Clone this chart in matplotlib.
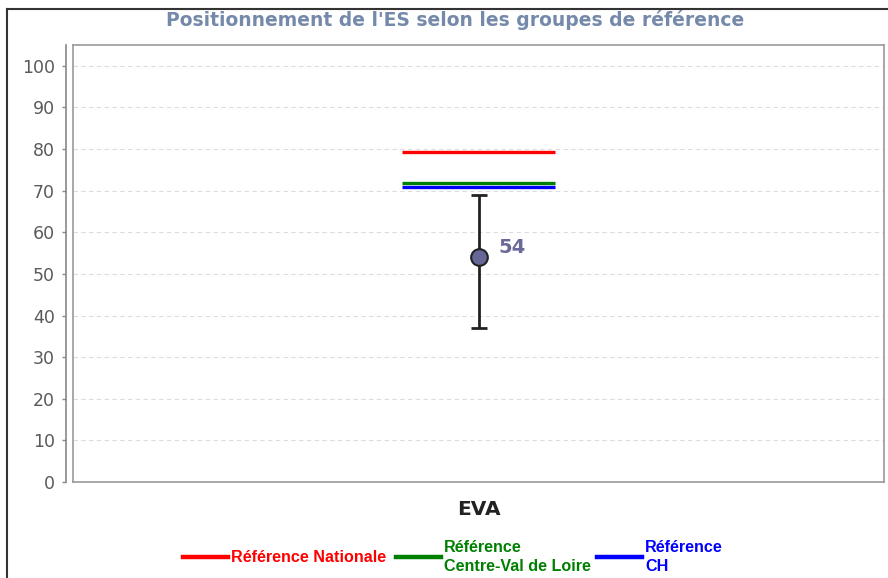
import matplotlib.pyplot as plt
from matplotlib.lines import Line2D

# data
category = 'EVA'
es_value = 54
es_low = 37
es_high = 69
ref_labels = ['Référence Nationale', 'Référence\nCentre-Val de Loire', 'Référence\nCH']
ref_values = [79.4, 71.9, 70.9]
ref_colors = ['#ff0000', '#008000', '#0000ff']
y_ticks = [0, 10, 20, 30, 40, 50, 60, 70, 80, 90, 100]

W, H = 888, 578
fig = plt.figure(figsize=(W / 100, H / 100), dpi=100)

# plot box in pixels
left, right, top, bottom = 73, 884, 45, 482
ax = fig.add_axes([left / W, 1 - bottom / H, (right - left) / W, (bottom - top) / H])

ax.set_xlim(-0.5, 0.5)
ax.set_ylim(0, 105)

# grid
for t in y_ticks:
    ax.axhline(t, color='#dddddd', lw=0.8, ls=(0, (4, 3)), zorder=0)

# reference lines
for v, c in zip(ref_values, ref_colors):
    ax.hlines(v, -0.094, 0.094, colors=c, lw=2.4, zorder=3)

# error bar + point
ax.errorbar([0], [es_value],
            yerr=[[es_value - es_low], [es_high - es_value]],
            fmt='none', ecolor='#222222', elinewidth=2, capsize=6, capthick=2, zorder=4)
ax.plot([0], [es_value], 'o', ms=12, mfc='#666699', mec='#222222', mew=1.5, zorder=5)
ax.annotate(str(es_value), (0, es_value), xytext=(14, 0), textcoords='offset points',
            color='#6a6a9a', fontsize=14, fontweight='bold', va='bottom', ha='left')

# spines
for s in ['top', 'right', 'bottom']:
    ax.spines[s].set_color('#999999')
    ax.spines[s].set_linewidth(1.2)
ax.spines['left'].set_position(('outward', 5))
ax.spines['left'].set_color('#888888')
ax.spines['left'].set_linewidth(1.2)
ax.plot([0, 0], [0, 1], transform=ax.transAxes, color='#999999', lw=1.2, clip_on=False)

ax.set_yticks(y_ticks)
ax.tick_params(axis='y', length=3, width=1, color='#888888', labelcolor='#5a5a5a',
               labelsize=12.5, pad=5)
ax.set_xticks([0])
ax.set_xticklabels([category], fontsize=14.5, fontweight='bold', color='#222222')
ax.tick_params(axis='x', length=0, pad=13)

# title
fig.text(455 / W, 1 - 20 / H, "Positionnement de l'ES selon les groupes de référence",
         ha='center', va='center', fontsize=13.5, fontweight='bold', color='#7589aa')

# outer frame
fig.add_artist(Line2D([7 / W, 1], [1 - 9 / H, 1 - 9 / H], color='#333333', lw=1.5))
fig.add_artist(Line2D([7 / W, 7 / W], [0, 1 - 9 / H], color='#333333', lw=1.5))

# legend drawn by hand
leg_x = [183, 396, 597]
for x0, lab, c in zip(leg_x, ref_labels, ref_colors):
    y = 1 - 557 / H
    fig.add_artist(Line2D([x0 / W, (x0 + 45) / W], [y, y], color=c, lw=3.2))
    fig.text((x0 + 48) / W, y, lab, ha='left', va='center', color=c,
             fontsize=11.6, fontweight='bold', family='Liberation Sans', linespacing=1.4)

fig.savefig('out.png', dpi=100)
